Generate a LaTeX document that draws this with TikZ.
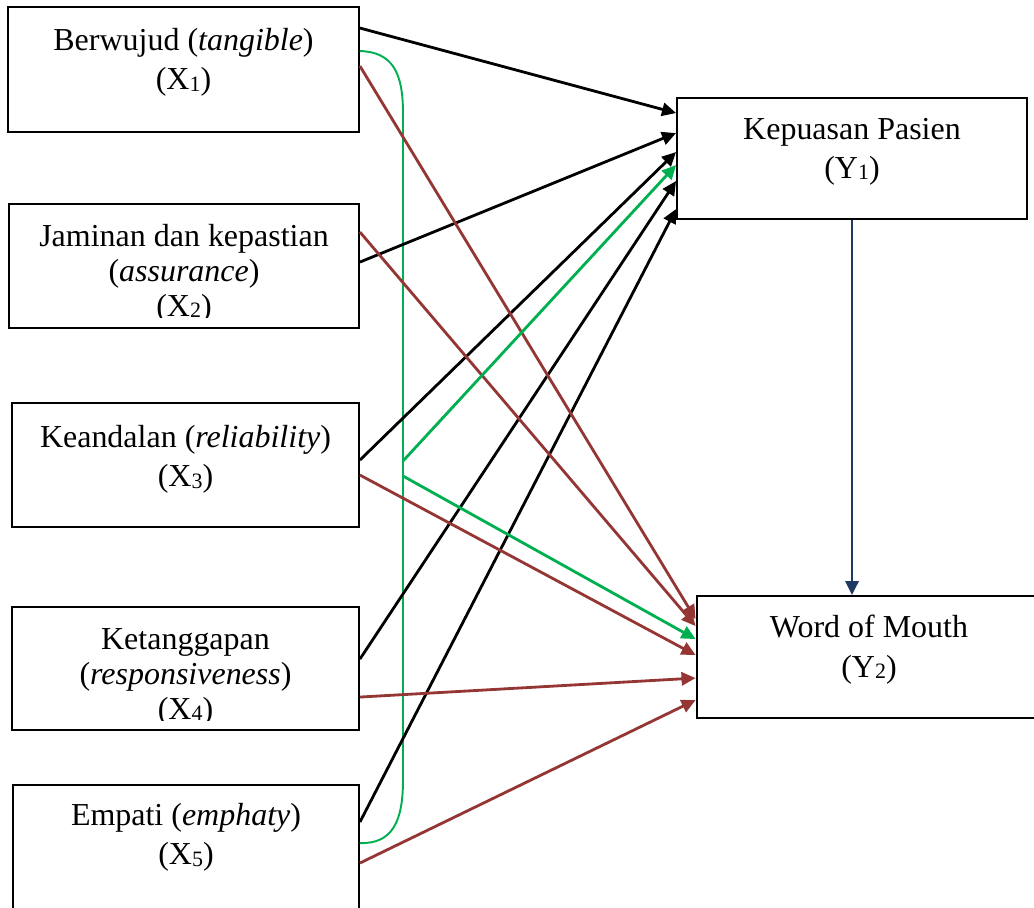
\documentclass[tikz,border=0pt]{standalone}
\usepackage{fontspec}
\setmainfont{Liberation Serif}
\usetikzlibrary{arrows.meta,calc}

\definecolor{pathblack}{HTML}{000000}
\definecolor{pathred}{HTML}{943634}
\definecolor{pathgreen}{HTML}{00B050}
\definecolor{pathblue}{HTML}{1F3864}

\newcommand{\subidx}[1]{\raisebox{-0.6pt}{\fontsize{12.5}{12.5}\selectfont #1}}

\begin{document}
\begin{tikzpicture}[x=0.02cm,y=-0.02cm]
      \tikzstyle{varbox} = [rectangle, draw=black, line width=1.1pt, inner sep=0pt, minimum width=6.94cm, minimum height=2.48cm]
      \tikzstyle{captext} = [anchor=north, align=center, inner sep=0pt, font=\fontsize{18.2}{22.4}\selectfont]
      \tikzstyle{captext3} = [captext, font=\fontsize{18.2}{19.9}\selectfont]
      \tikzstyle{arrow} = [line width=1.6pt, -{Triangle[length=8pt,width=7.5pt]}]

      \clip (0,0) rectangle (1034,907);

      % variables X
      \node (tangible) [varbox, minimum width=7.02cm, minimum height=2.5cm] at (183.5,69.5) {};
      \node (assurance) [varbox, minimum width=7cm] at (184,266) {};
      \node (reliability) [varbox] at (185.5,465) {};
      \node (responsiveness) [varbox, minimum height=2.46cm] at (185.5,668.5) {};
      \node (empathy) [varbox, minimum width=6.92cm, minimum height=2.6cm] at (186,850) {};

      % variables Y
      \node (satisfaction) [varbox, minimum width=7cm, minimum height=2.42cm] at (852,158.5) {};
      \node (word-of-mouth) [varbox, minimum width=6.9cm, minimum height=2.44cm] at (869,657) {};

      \node (tangible-text) [captext] at ($(tangible.north)+(0,22)$) {Berwujud (\textit{tangible})\\(X\subidx{1})};
      \begin{scope}
        \clip (9,204) rectangle (359,317);
        \node (assurance-text) [captext3] at ($(assurance.north)+(0,21)$) {Jaminan dan kepastian\\(\textit{assurance})\\(X\subidx{2})};
      \end{scope}
      \node (reliability-text) [captext] at ($(reliability.north)+(0,23)$) {Keandalan (\textit{reliability})\\(X\subidx{3})};
      \begin{scope}
        \clip (12,607) rectangle (359,720);
        \node (responsiveness-text) [captext3] at ($(responsiveness.north)+(0,22)$) {Ketanggapan\\(\textit{responsiveness})\\(X\subidx{4})};
      \end{scope}
      \node (empathy-text) [captext] at ($(empathy.north)+(0,19)$) {Empati (\textit{emphaty})\\(X\subidx{5})};
      \node (satisfaction-text) [captext] at ($(satisfaction.north)+(0,21)$) {Kepuasan Pasien\\(Y\subidx{1})};
      \node (word-of-mouth-text) [captext] at ($(word-of-mouth.north)+(0,20)$) {Word of Mouth\\(Y\subidx{2})};

      % simultaneous bracket
      \draw [pathgreen, line width=1.1pt] ($(tangible.north east)+(0,45)$) .. controls (392,52) and (403,72) .. (403,113) -- (403,780) .. controls (403,822) and (392,844) .. ($(empathy.north east)+(0,59)$);
      \coordinate (bracket-up) at (403,461);
      \coordinate (bracket-down) at (403,476);

      \draw [arrow, pathblack] ($(tangible.north east)+(0,22)$) -- ($(satisfaction.north west)+(0,16)$);
      \draw [arrow, pathblack] ($(assurance.north east)+(0,59)$) -- ($(satisfaction.north west)+(0,36)$);
      \draw [arrow, pathblack] ($(reliability.north east)+(0,58)$) -- ($(satisfaction.north west)+(0,55)$);
      \draw [arrow, pathblack] ($(responsiveness.north east)+(0,53)$) -- ($(satisfaction.north west)+(0,84)$);
      \draw [arrow, pathblack] ($(empathy.north east)+(0,38)$) -- ($(satisfaction.north west)+(0,112)$);

      \draw [arrow, pathred] ($(tangible.north east)+(0,60)$) -- ($(word-of-mouth.north west)+(0,24)$);
      \draw [arrow, pathred] ($(assurance.north east)+(0,29)$) -- ($(word-of-mouth.north west)+(0,31)$);
      \draw [arrow, pathred] ($(reliability.north east)+(0,73)$) -- ($(word-of-mouth.north west)+(0,60)$);
      \draw [arrow, pathred] ($(responsiveness.north east)+(0,91)$) -- ($(word-of-mouth.north west)+(0,83)$);
      \draw [arrow, pathred] ($(empathy.north east)+(0,79)$) -- ($(word-of-mouth.north west)+(0,105)$);

      \draw [arrow, pathgreen] (bracket-up) -- ($(satisfaction.north west)+(0,68)$);
      \draw [arrow, pathgreen] (bracket-down) -- ($(word-of-mouth.north west)+(0,44)$);

      \draw [arrow, pathblue] (satisfaction.south) -- (satisfaction.south |- word-of-mouth.north);
\end{tikzpicture}
\end{document}
